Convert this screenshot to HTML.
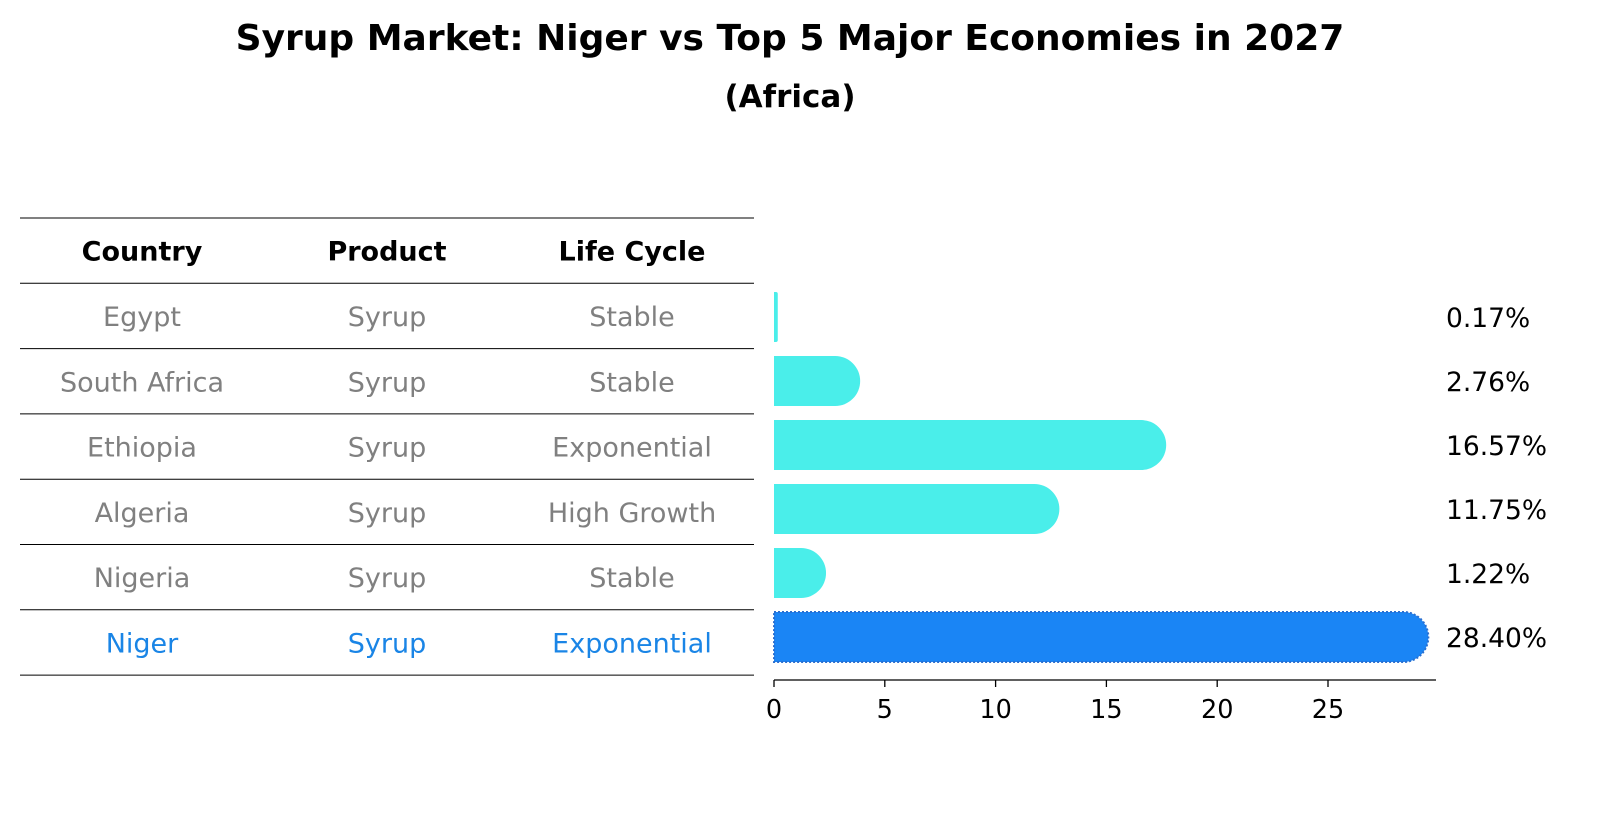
<!DOCTYPE html>
<html><head><meta charset="utf-8"><style>
body{margin:0;background:#fff;font-family:"Liberation Sans","DejaVu Sans",sans-serif;}
svg text{font-family:"DejaVu Sans","Liberation Sans",sans-serif;}
</style></head><body>
<svg id="c" width="1604" height="823" xmlns="http://www.w3.org/2000/svg">
<text x="790" y="50" text-anchor="middle" font-size="36" font-weight="bold">Syrup Market: Niger vs Top 5 Major Economies in 2027</text>
<text x="790" y="107" text-anchor="middle" font-size="31" font-weight="bold">(Africa)</text>
<g id="table"></g>
<g id="bars"></g>
</svg>
<script>
const countries=["Egypt","South Africa","Ethiopia","Algeria","Nigeria","Niger"];
const products=["Syrup","Syrup","Syrup","Syrup","Syrup","Syrup"];
const cycles=["Stable","Stable","Exponential","High Growth","Stable","Exponential"];
const values=[0.17,2.76,16.57,11.75,1.22,28.40];
const ticks=[0,5,10,15,20,25];
const NS="http://www.w3.org/2000/svg";
function mk(t,a,p){const e=document.createElementNS(NS,t);for(const k in a)e.setAttribute(k,a[k]);p.appendChild(e);return e;}
const tb=document.getElementById('table'),bg=document.getElementById('bars');
const rowTop=218,rowH=65.3;
for(let i=0;i<=7;i++){const y=rowTop+i*rowH;const l=mk('line',{x1:20,x2:754,y1:y,y2:y,stroke:'#000','stroke-width':1},tb);
}
const cx=[142,387,632];
["Country","Product","Life Cycle"].forEach((h,j)=>{const t=mk('text',{x:cx[j],y:rowTop+rowH/2+10,'text-anchor':'middle','font-size':27,'font-weight':'bold'},tb);t.textContent=h;
});
countries.forEach((c,i)=>{const y=rowTop+(i+1.5)*rowH+10;const col=i==countries.length-1?'#1a85e6':'#808080';
[c,products[i],cycles[i]].forEach((s,j)=>{const t=mk('text',{x:cx[j],y:y,'text-anchor':'middle','font-size':27,fill:col},tb);t.textContent=s;
});});
const x0=774,ppu=22.16;const X=v=>x0+v*ppu;
const barTop0=292,step=64,bh=50,r=25;
values.forEach((v,i)=>{const y=barTop0+i*step;const px=X(v)-x0;const w=px>=r?px+r:px;const rx=Math.min(r,w/2);
const d=`M${x0},${y} H${x0+w-rx} A${rx},${rx} 0 0 1 ${x0+w},${y+rx} V${y+bh-rx} A${rx},${rx} 0 0 1 ${x0+w-rx},${y+bh} H${x0} Z`;
const last=i==values.length-1;
const p=mk('path',{d:d,fill:last?'#1a85f5':'#4aeeea',stroke:last?'#2a6fd0':'none','stroke-width':last?2:0,'stroke-dasharray':last?'2,2':''},bg);

const t=mk('text',{x:1446,y:y+bh/2+10,'font-size':26.5},bg);t.textContent=v.toFixed(2)+'%';
});
const ax=mk('line',{x1:x0,x2:1436,y1:680,y2:680,stroke:'#000','stroke-width':1.3},bg);

ticks.forEach(v=>{const l=mk('line',{x1:X(v),x2:X(v),y1:680,y2:687,stroke:'#000','stroke-width':1.3},bg);

const t=mk('text',{x:X(v),y:718,'text-anchor':'middle','font-size':25.5},bg);t.textContent=v;
});
</script>
</body></html>
